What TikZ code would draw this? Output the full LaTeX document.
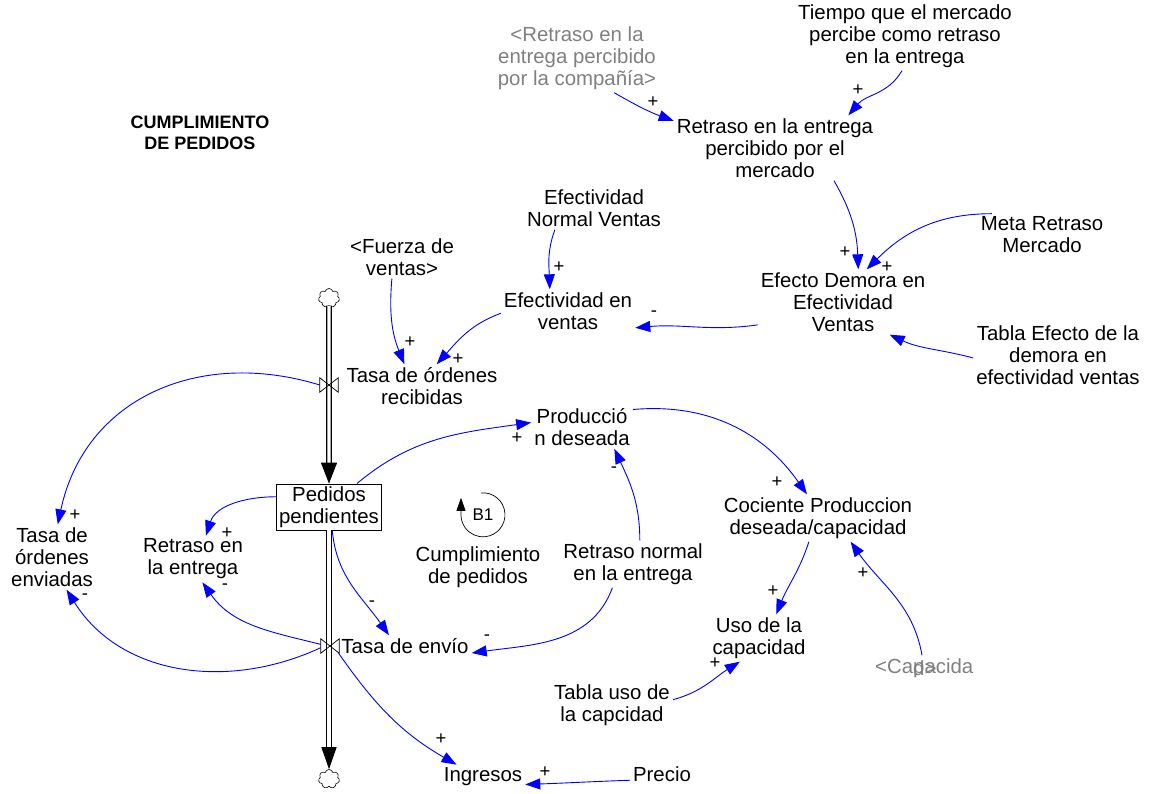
\documentclass[tikz,border=0pt]{standalone}
\usepackage{fontspec}
\setmainfont{Liberation Sans}
\usetikzlibrary{arrows.meta,shapes.symbols}
\tikzset{
  var/.style={align=center, inner sep=3pt, font=\fontsize{20.4}{22}\selectfont},
  shadow/.style={var, text=gray},
  link/.style={blue, line width=0.9pt, -{Triangle[length=15pt,width=11pt]}},
  pol/.style={inner sep=0pt, font=\fontsize{18.5}{18.5}\selectfont},
  pipe/.style={double, double distance=3.4pt, line width=1.1pt},
  valve/.style={inner sep=0pt, minimum width=18pt, minimum height=14pt},
  src/.style={cloud, cloud puffs=7, draw, line width=0.6pt, minimum width=21pt, minimum height=19pt, inner sep=0pt, fill=white},
}
\begin{document}
\begin{tikzpicture}[x=1pt,y=1pt]
\useasboundingbox (0,0) rectangle (1156,-793);
% variables
\node[var, font=\fontsize{18}{21}\selectfont\bfseries] (title) at (200,-133) {CUMPLIMIENTO\\DE PEDIDOS};
\node[shadow] (compania) at (577,-58) {<Retraso en la\\entrega percibido\\por la compañía>};
\node[var] (tiempo) at (905,-36) {Tiempo que el mercado\\percibe como retraso\\en la entrega};
\node[var] (retmer) at (775,-148) {Retraso en la entrega\\percibido por el\\mercado};
\node[var] (efnorm) at (594,-208) {Efectividad\\Normal Ventas};
\node[var] (meta) at (1042,-235) {Meta Retraso\\Mercado};
\node[var] (fuerza) at (402,-257) {<Fuerza de\\ventas>};
\node[var] (efvent) at (568,-311) {Efectividad en\\ventas};
\node[var] (efecto) at (843,-302) {Efecto Demora en\\Efectividad\\Ventas};
\node[var] (tablaef) at (1058,-355) {Tabla Efecto de la\\demora en\\efectividad ventas};
\node[var] (tasarec) at (422,-386) {Tasa de órdenes\\recibidas};
\node[var] (prod) at (582,-427) {Producció\\n deseada};
\node[var, draw, line width=0.8pt, inner sep=2.5pt] (pedidos) at (329,-507) {Pedidos\\pendientes};
\node[var] (cumpl) at (478,-567) {Cumplimiento\\de pedidos};
\node[var] (tasaenv) at (52,-557) {Tasa de\\órdenes\\enviadas};
\node[var] (retent) at (193,-559) {Retraso en\\la entrega};
\node[var] (retnorm) at (633,-564) {Retraso normal\\en la entrega};
\node[var] (cociente) at (818,-518) {Cociente Produccion\\deseada/capacidad};
\node[var] (uso) at (759,-638) {Uso de la\\capacidad};
\node[shadow, anchor=west] (capac) at (872,-668) {<Capacida};
\node[shadow, anchor=west] (capacb) at (910,-668) {d>};
\node[var] (envio) at (405,-646) {Tasa de envío};
\node[var] (tablauso) at (612,-705) {Tabla uso de\\la capcidad};
\node[var] (ingresos) at (483,-777) {Ingresos};
\node[var] (precio) at (662,-774) {Precio};
% stock and flow
\node[src] (cloudin) at (329,-298) {};
\node[src] (cloudout) at (329,-779) {};
\node[valve] (vin) at (329,-385) {};
\node[valve] (vout) at (330,-646) {};
\draw[pipe, -{Triangle[length=21pt,width=16pt]}] (cloudin) -- (pedidos);
\draw[pipe, -{Triangle[length=22pt,width=15pt]}] (pedidos) -- (cloudout);
\draw[line width=0.7pt] (vin.north west) -- (vin.south east) -- (vin.north east) -- (vin.south west) -- cycle;
\draw[line width=0.7pt] (vout.north west) -- (vout.south east) -- (vout.north east) -- (vout.south west) -- cycle;
% loop
\node[circle, minimum size=44pt, inner sep=0pt, font=\fontsize{17}{18}\selectfont] (b1) at (483,-515) {B1};
\draw[line width=0.7pt, -{Triangle[length=13pt,width=9pt]}] (b1.95) arc[start angle=95, end angle=-180, radius=22pt] -- ++(0,17);
% links
\draw[link] (compania.-43) to[out=-30,in=160] (retmer.165);
\draw[link] (tiempo.-95) to[out=-120,in=50] (retmer.24);
\draw[link] (retmer.-29) to[out=-60,in=92] (efecto.65);
\draw[link] (meta.157) to[out=180,in=45] (efecto.54);
\draw[link] (tablaef.182) to[out=165,in=-25] (efecto.-35);
\draw[link] (efecto.195) to[out=188,in=5] (efvent.-14);
\draw[link] (efnorm.209) to[out=250,in=92] (efvent.130);
\draw[link] (efvent.182) to[out=200,in=48] (tasarec.56);
\draw[link] (fuerza.-115) to[out=-95,in=112] (tasarec.129);
\draw[link] (vin.west) to[out=163,in=78,looseness=1.1] (tasaenv.80);
\draw[link] (pedidos.40) to[out=40,in=188] (prod.175);
\draw[link] (prod.19) to[out=5,in=125] (cociente.115);
\draw[link] (retnorm.74) to[out=90,in=-65] (prod.-34);
\draw[link] (retnorm.-131) to[out=-110,in=8] (envio.-6);
\draw[link] (cociente.-111) to[out=-108,in=68] (uso.54);
\draw[link] (capac.100) to[out=100,in=-55] (cociente.-36);
\draw[link] (tablauso.5) to[out=15,in=212] (uso.-129);
\draw[link] (precio.191) to[out=182,in=2] (ingresos.-10);
\draw[link] (pedidos.169) to[out=180,in=72] (retent.61);
\draw[link] (vout.170) to[out=166,in=-55] (retent.-68);
\draw[link] (vout.190) to[out=205,in=-58] (tasaenv.-66);
\draw[link] (pedidos.-82) to[out=-85,in=125] (envio.146);
\draw[link] (vout.-40) to[out=-55,in=150] (ingresos.155);
% polarities
\foreach \px/\py/\s [count=\k] in {653/102/+, 858/90/+, 845/252/+, 887/267/+, 654/314/-, 559/267/+,
  458/359/+, 410/342/+, 75/515/+, 517/438/+, 777/482/+, 614/470/-, 487/638/-, 773/591/+, 863/573/+,
  715/663/+, 545/772/+, 227/533/+, 225/587/-, 85/597/-, 372/604/-, 441/739/+}
  \node[pol] (pol\k) at (\px,-\py) {\s};
\end{tikzpicture}
\end{document}
